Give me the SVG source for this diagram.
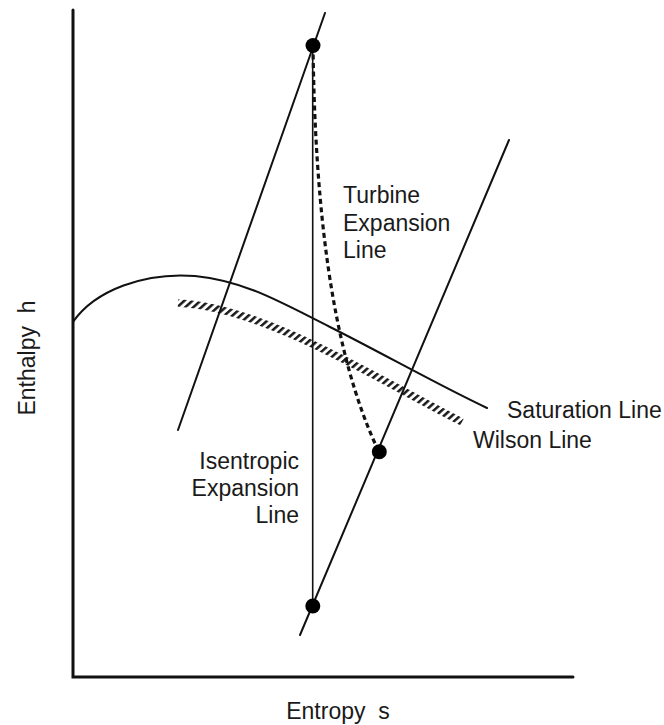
<svg xmlns="http://www.w3.org/2000/svg" width="664" height="725" viewBox="0 0 664 725">
<style>
text{font-family:"Liberation Sans",Arial,sans-serif;font-size:23px;fill:#1a1a1a}
.ln{fill:none;stroke:#111;stroke-linecap:round}
.dot{fill:#000}
</style>
<defs>
<pattern id="hatch" patternUnits="userSpaceOnUse" width="5.4" height="20" patternTransform="rotate(48)">
<rect x="0" y="0" width="2.5" height="20" fill="#1a1a1a"/>
</pattern>
</defs>
<rect width="664" height="725" fill="#fff"/>
<g id="axes">
<path class="ln" d="M73,10 V677 H573" stroke-width="3" stroke-linecap="butt"/>
</g>
<g id="connectors">
<path id="saturation-line" class="ln" stroke-width="2" d="M73,322 C95,290 145,272 195,276 C245,281 280,302 330,327 C380,352 440,386 487,408"/>
<path id="wilson-line" fill="none" stroke="url(#hatch)" stroke-width="7.5" d="M178,303 C268,308 382,382 462,422"/>
<path id="high-isobar" class="ln" stroke-width="2" d="M325,13 L178,430"/>
<path id="low-isobar" class="ln" stroke-width="2" d="M509,140 L300,635"/>
<path id="isentropic-line" class="ln" stroke-width="1.6" d="M312.7,45 V606"/>
<path id="turbine-line" fill="none" stroke="#111" stroke-width="3.2" stroke-dasharray="5 3.5" d="M313,46 C315,200 330,350 379,452"/>
</g>
<g id="point-1"><circle class="dot" cx="313" cy="45.5" r="7.5"/></g>
<g id="point-2"><circle class="dot" cx="379.3" cy="451.7" r="7.5"/></g>
<g id="point-2s"><circle class="dot" cx="312.8" cy="606" r="7.5"/></g>
<g id="labels">
<text x="343" y="203">Turbine</text>
<text x="343" y="231">Expansion</text>
<text x="343" y="258">Line</text>
<text x="507" y="418">Saturation Line</text>
<text x="473" y="448">Wilson Line</text>
<text x="299" y="469" text-anchor="end">Isentropic</text>
<text x="299" y="496" text-anchor="end">Expansion</text>
<text x="299" y="523" text-anchor="end">Line</text>
<text x="338" y="719" text-anchor="middle">Entropy&#160;&#160;s</text>
<text transform="translate(35,358) rotate(-90)" text-anchor="middle">Enthalpy&#160;&#160;h</text>
</g>
</svg>
